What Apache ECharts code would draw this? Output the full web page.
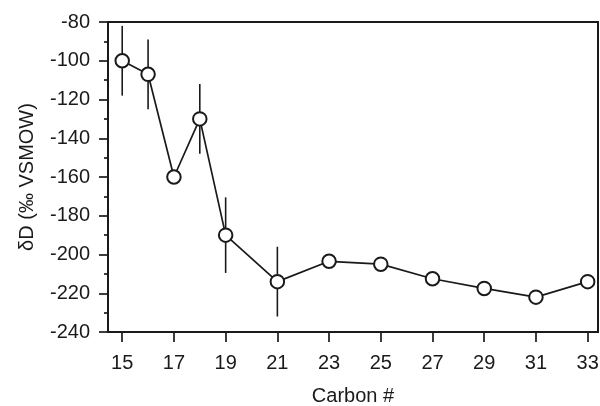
<!DOCTYPE html>
<html>
<head>
<meta charset="utf-8">
<script src="https://cdn.jsdelivr.net/npm/echarts@6/dist/echarts.min.js"></script>
<style>
html,body{margin:0;padding:0;background:#fff;}
#chart{width:600px;height:406px;}
</style>
</head>
<body>
<div id="chart"></div>
<script>
const carbons = [15, 16, 17, 18, 19, 21, 23, 25, 27, 29, 31, 33];
const dD = [-100, -107, -160, -130, -190, -214, -203.5, -205, -212.5, -217.5, -222, -214];
const errs = [18, 18, null, 18, 19.5, 18, null, null, null, null, null, null];
const xTicks = [15, 17, 19, 21, 23, 25, 27, 29, 31, 33];

const FONT = 'Liberation Sans';
const INK = '#1a1a1a';

const pts = carbons.map((c, i) => [c, dD[i]]);
const errData = carbons.map((c, i) => [c, dD[i], errs[i]]).filter(d => d[2] != null);

const chart = echarts.init(document.getElementById('chart'));
chart.setOption({
  animation: false,
  grid: {left: 108, right: 2, top: 22, bottom: 74, outerBoundsMode: 'none', containLabel: false,
         show: true, borderColor: INK, borderWidth: 2},
  xAxis: {
    type: 'value', min: 14.45, max: 33.4,
    name: 'Carbon #', nameLocation: 'middle', nameGap: 54,
    nameTextStyle: {fontFamily: FONT, fontSize: 20, color: INK},
    axisLine: {show: true, lineStyle: {color: INK, width: 2}},
    axisTick: {show: true, length: 10, customValues: xTicks, lineStyle: {color: INK, width: 1.7}},
    axisLabel: {customValues: xTicks, margin: 21, fontFamily: FONT, fontSize: 20, color: INK},
    splitLine: {show: false}
  },
  yAxis: {
    type: 'value', min: -240, max: -80, interval: 20,
    name: 'δD (‰ VSMOW)', nameLocation: 'middle', nameGap: 71,
    nameTextStyle: {fontFamily: FONT, fontSize: 20, color: INK},
    axisLine: {show: true, lineStyle: {color: INK, width: 2}},
    axisTick: {show: true, length: 9, lineStyle: {color: INK, width: 1.7}},
    minorTick: {show: true, splitNumber: 2, length: 4, lineStyle: {color: INK, width: 1.7}},
    axisLabel: {margin: 18, fontFamily: FONT, fontSize: 20, color: INK},
    splitLine: {show: false}
  },
  series: [
    {
      type: 'custom', z: 1,
      data: errData,
      renderItem: function (params, api) {
        const x = api.value(0), y = api.value(1), e = api.value(2);
        const p1 = api.coord([x, y + e]);
        const p2 = api.coord([x, y - e]);
        return {type: 'line', shape: {x1: p1[0], y1: p1[1], x2: p2[0], y2: p2[1]},
                style: {stroke: INK, lineWidth: 1.6}};
      }
    },
    {
      type: 'line', z: 3,
      data: pts,
      symbol: 'circle', symbolSize: 13.5,
      lineStyle: {color: INK, width: 1.7},
      itemStyle: {color: '#fff', borderColor: INK, borderWidth: 2}
    }
  ]
});
</script>
</body>
</html>
